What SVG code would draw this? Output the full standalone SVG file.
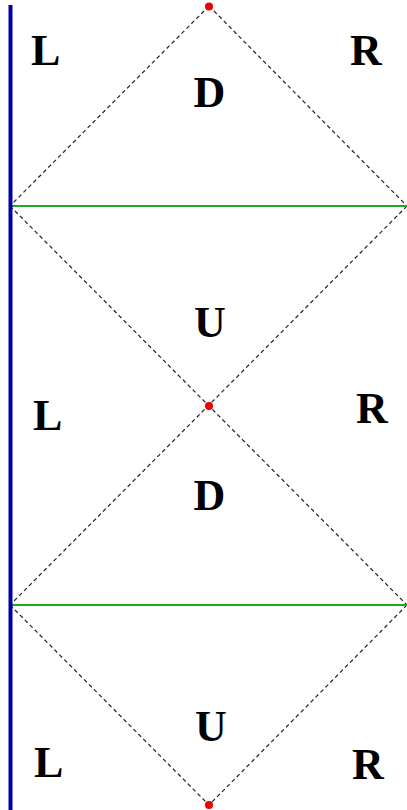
<svg xmlns="http://www.w3.org/2000/svg" width="407" height="810" viewBox="0 0 407 810">
<style>
.dash{stroke:#222;stroke-width:1.2;stroke-dasharray:4,3;fill:none}
.green{stroke:#1faa1f;stroke-width:2.2;fill:none}
.blue{stroke:#0000aa;stroke-width:4;fill:none}
.dot{fill:#ee0000}
.lbl{font-family:"Liberation Serif",serif;font-weight:bold;font-size:44px;fill:#000}
</style>
<rect width="407" height="810" fill="#fff"/>
<g id="connectors">
<path class="dash" d="M209,6 L10,206 M209,6 L407,206 M10,206 L407,605 M407,206 L10,605 M10,605 L209,805 M407,605 L209,805"/>
<line class="green" x1="10" y1="206" x2="407" y2="206"/>
<line class="green" x1="10" y1="605" x2="407" y2="605"/>
<line class="blue" x1="10.5" y1="5" x2="10.5" y2="810"/>
</g>
<g id="dot-top"><circle class="dot" cx="209" cy="6.5" r="4"/></g>
<g id="dot-mid"><circle class="dot" cx="209" cy="406" r="4"/></g>
<g id="dot-bot"><circle class="dot" cx="209" cy="805" r="4"/></g>
<g id="label-L1"><text class="lbl" x="31" y="65">L</text></g>
<g id="label-R1"><text class="lbl" x="366" y="65" text-anchor="middle">R</text></g>
<g id="label-D1"><text class="lbl" x="209.5" y="107" text-anchor="middle">D</text></g>
<g id="label-U1"><text class="lbl" x="210" y="337" text-anchor="middle">U</text></g>
<g id="label-L2"><text class="lbl" x="33" y="430">L</text></g>
<g id="label-R2"><text class="lbl" x="372" y="423" text-anchor="middle">R</text></g>
<g id="label-D2"><text class="lbl" x="209.5" y="510" text-anchor="middle">D</text></g>
<g id="label-U2"><text class="lbl" x="211" y="741" text-anchor="middle">U</text></g>
<g id="label-L3"><text class="lbl" x="34" y="777">L</text></g>
<g id="label-R3"><text class="lbl" x="368" y="779" text-anchor="middle">R</text></g>
</svg>
